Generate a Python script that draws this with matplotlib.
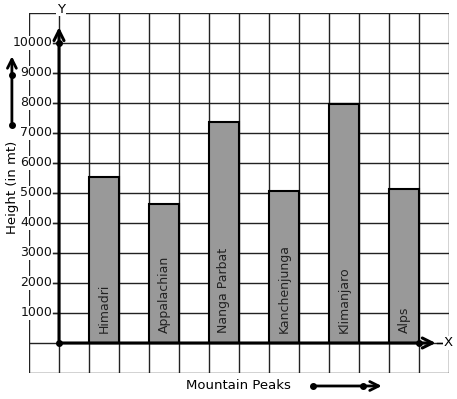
import matplotlib
matplotlib.use("Agg")
import matplotlib.pyplot as plt

peaks = ["Himadri", "Appalachian", "Nanga Parbat", "Kanchenjunga", "Klimanjaro", "Alps"]
heights = [5540, 4640, 7380, 5080, 7960, 5150]
bar_pos = [1.5, 3.5, 5.5, 7.5, 9.5, 11.5]
yticks = [1000, 2000, 3000, 4000, 5000, 6000, 7000, 8000, 9000, 10000]

fig = plt.figure(figsize=(4.57, 3.99), dpi=100)
ax = fig.add_axes([29/457, 26/399, 420/457, 360/399])
ax.set_xlim(-1, 13)
ax.set_ylim(-1000, 11000)

# grid
for gx in range(-1, 14):
    ax.axvline(gx, color="#222222", lw=1, zorder=1)
for gy in range(-1000, 11001, 1000):
    ax.axhline(gy, color="#222222", lw=1, zorder=1)
for s in ax.spines.values():
    s.set_visible(False)
ax.set_xticks([])
ax.set_yticks([])

ax.bar(bar_pos, heights, width=1, color="#999999", edgecolor="black", lw=1.5, zorder=2)
for x, name in zip(bar_pos, peaks):
    ax.text(x, 330, name, rotation=90, ha="center", va="bottom", fontsize=9,
            color="#222222", zorder=3)

# y tick labels
for v in yticks:
    ax.text(-0.23, v, str(v), ha="right", va="center", fontsize=9, color="#111111",
            bbox=dict(facecolor="white", edgecolor="none", pad=0.5), zorder=4, clip_on=False)
    ax.plot([-0.2, 0], [v, v], color="#222222", lw=1, zorder=4)

# axes with arrows
ax.annotate("", xy=(0, 10620), xytext=(0, 0),
            arrowprops=dict(arrowstyle="->", lw=2.2, color="black", mutation_scale=18), zorder=5)
ax.annotate("", xy=(12.65, 0), xytext=(0, 0),
            arrowprops=dict(arrowstyle="->", lw=2.2, color="black", mutation_scale=18), zorder=5)
ax.plot([12.6, 12.8], [0, 0], color="black", lw=1, zorder=5)
ax.plot([0, 0, 12], [0, 10000, 0], "o", color="black", ms=4, zorder=6)
ax.text(0.07, 11130, "Y", ha="center", va="center", fontsize=9.5,
        bbox=dict(facecolor="white", edgecolor="none", pad=0.5), zorder=6, clip_on=False)
ax.text(12.97, 0, "X", ha="center", va="center", fontsize=9.5,
        bbox=dict(facecolor="white", edgecolor="none", pad=0.2), zorder=6, clip_on=False)

# axis titles
ax.text(5.97, -1420, "Mountain Peaks", ha="center", va="center", fontsize=9.5, clip_on=False)
ax.text(-1.55, 5200, "Height (in mt)", rotation=90, ha="center", va="center", fontsize=9.5,
        clip_on=False)

# side arrows
ax.annotate("", xy=(-1.57, 9650), xytext=(-1.57, 7270), annotation_clip=False,
            arrowprops=dict(arrowstyle="->", lw=2, color="black", mutation_scale=16))
ax.plot([-1.57, -1.57], [7270, 8930], "o", color="black", ms=4, clip_on=False)
ax.annotate("", xy=(10.85, -1433), xytext=(8.47, -1433), annotation_clip=False,
            arrowprops=dict(arrowstyle="->", lw=2, color="black", mutation_scale=16))
ax.plot([8.47, 10.13], [-1433, -1433], "o", color="black", ms=4, clip_on=False)

fig.savefig("out.png", dpi=100)
